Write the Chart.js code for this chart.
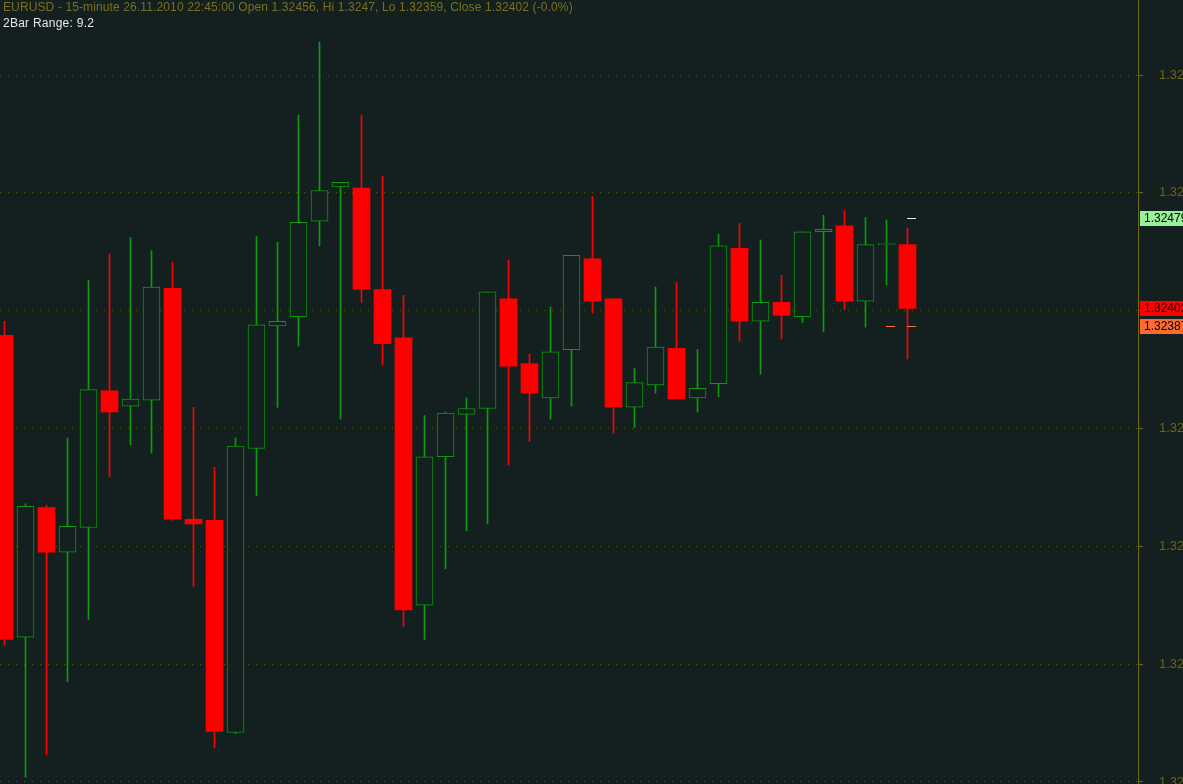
<!DOCTYPE html>
<html>
<head>
<meta charset="utf-8">
<script src="https://cdn.jsdelivr.net/npm/chart.js@4"></script>
<style>
  html, body { margin: 0; padding: 0; background: #142020; overflow: hidden; }
  #wrap { position: relative; width: 1183px; height: 784px; }
  .hdr { position: absolute; left: 3px; font-family: 'Liberation Sans', Arial, sans-serif; font-size: 12px; letter-spacing: 0.12px; white-space: nowrap; line-height: 14px; }
  #title { top: 0px; color: #77721f; }
  #range { top: 16px; color: #e6e6e6; letter-spacing: 0.25px; }
</style>
</head>
<body>
<div id="wrap">
  <canvas id="chart" width="1183" height="784"></canvas>
  <div class="hdr" id="title">EURUSD - 15-minute 26.11.2010 22:45:00 Open 1.32456, Hi 1.3247, Lo 1.32359, Close 1.32402 (-0.0%)</div>
  <div class="hdr" id="range">2Bar Range: 9.2</div>
</div>
<script>
// 15-minute bars, oldest first
const opens  = [1.32379, 1.32123, 1.32233, 1.32195, 1.32216, 1.32332, 1.32319, 1.32324, 1.32419, 1.32223,
                1.32222, 1.32042, 1.32283, 1.32387, 1.32395, 1.32476, 1.32505, 1.32504, 1.32418, 1.32377,
                1.32150, 1.32276, 1.32312, 1.32317, 1.32410, 1.32355, 1.32326, 1.32367, 1.32444, 1.32410,
                1.32318, 1.32337, 1.32368, 1.32326, 1.32338, 1.32453, 1.32391, 1.32407, 1.32395, 1.32467,
                1.32472, 1.32408, 1.32456, 1.32456];
const highs  = [1.32391, 1.32236, 1.32235, 1.32292, 1.32426, 1.32448, 1.32462, 1.32451, 1.32441, 1.32318,
                1.32267, 1.32292, 1.32463, 1.32458, 1.32566, 1.32628, 1.32509, 1.32566, 1.32514, 1.32413,
                1.32311, 1.32314, 1.32326, 1.32416, 1.32443, 1.32363, 1.32403, 1.32447, 1.32497, 1.32410,
                1.32351, 1.32420, 1.32424, 1.32367, 1.32465, 1.32474, 1.32460, 1.32430, 1.32467, 1.32481,
                1.32485, 1.32479, 1.32477, 1.32470];
const lows   = [1.32116, 1.32004, 1.32023, 1.32085, 1.32138, 1.32259, 1.32286, 1.32279, 1.32222, 1.32166,
                1.32029, 1.32041, 1.32243, 1.32318, 1.32370, 1.32455, 1.32308, 1.32407, 1.32354, 1.32132,
                1.32121, 1.32181, 1.32213, 1.32219, 1.32269, 1.32289, 1.32308, 1.32319, 1.32398, 1.32296,
                1.32301, 1.32330, 1.32325, 1.32314, 1.32327, 1.32374, 1.32346, 1.32376, 1.32390, 1.32382,
                1.32401, 1.32386, 1.32422, 1.32359];
const closes = [1.32121, 1.32234, 1.32195, 1.32217, 1.32333, 1.32314, 1.32325, 1.32420, 1.32223, 1.32219,
                1.32043, 1.32285, 1.32388, 1.32391, 1.32475, 1.32502, 1.32509, 1.32418, 1.32372, 1.32146,
                1.32276, 1.32313, 1.32317, 1.32416, 1.32353, 1.32330, 1.32365, 1.32447, 1.32408, 1.32318,
                1.32339, 1.32369, 1.32325, 1.32334, 1.32455, 1.32391, 1.32407, 1.32396, 1.32467, 1.32469,
                1.32408, 1.32456, 1.32456, 1.32402];

const yTicks = [1.3200, 1.3210, 1.3220, 1.3230, 1.3240, 1.3250, 1.3260];

// price tags on the right axis
const tagValues = [1.32479, 1.32402, 1.32387];
const tagColors = ['#98f098', '#ff0000', '#ff6a30'];

// small level dashes next to the last bars
const dashBars   = [43, 42, 43];
const dashValues = [1.32479, 1.32387, 1.32387];
const dashColors = ['#c8ffc8', '#ff7040', '#ff7040'];

const BG = '#142020';
const UP = '#0a9a0a';
const DOWN = '#ff0000';
const OLIVE = '#6e6800';

const isUp = opens.map((o, i) => closes[i] >= o);

const wickData = lows.map((l, i) => ({ x: i, y: [l, highs[i]] }));
const bodyData = opens.map((o, i) => ({ x: i, y: [o, closes[i]] }));

const tagPlugin = {
    id: 'tags',
    afterDraw(chart) {
        const ctx = chart.ctx;
        const xs = chart.scales.x, ys = chart.scales.y;
        ctx.save();
        // level dashes
        dashBars.forEach((b, i) => {
            const x = xs.getPixelForValue(b);
            const y = Math.round(ys.getPixelForValue(dashValues[i])) + 0.5;
            ctx.strokeStyle = dashColors[i];
            ctx.lineWidth = 1;
            ctx.beginPath();
            ctx.moveTo(x - 0.5, y);
            ctx.lineTo(x + 8.5, y);
            ctx.stroke();
        });
        // price boxes
        ctx.font = '12px "Liberation Sans", Arial, sans-serif';
        ctx.textBaseline = 'middle';
        tagValues.forEach((v, i) => {
            const y = Math.round(ys.getPixelForValue(v));
            ctx.fillStyle = tagColors[i];
            ctx.fillRect(1140, y - 7, 43, 15);
            ctx.fillStyle = '#000';
            ctx.fillText(v.toFixed(5), 1144, y + 1);
        });
        ctx.restore();
    }
};

new Chart(document.getElementById('chart'), {
    type: 'bar',
    data: {
        datasets: [
            {
                label: 'wick',
                data: wickData,
                backgroundColor: isUp.map(u => u ? UP : DOWN),
                borderWidth: 0,
                barThickness: 1,
                grouped: false,
                order: 2
            },
            {
                label: 'body',
                data: bodyData,
                backgroundColor: isUp.map(u => u ? BG : DOWN),
                borderColor: isUp.map(u => u ? UP : DOWN),
                borderWidth: isUp.map(u => u ? 1 : 0),
                borderSkipped: false,
                barThickness: 17,
                minBarLength: 1,
                grouped: false,
                order: 1
            }
        ]
    },
    options: {
        responsive: false,
        animation: false,
        layout: { padding: 0 },
        plugins: { legend: { display: false }, tooltip: { enabled: false } },
        scales: {
            x: {
                type: 'linear',
                display: false,
                offset: false,
                min: -4.5 / 21,
                max: -4.5 / 21 + 1138 / 21
            },
            y: {
                type: 'linear',
                position: 'right',
                min: 1.3200 - 2 / 117833,
                max: 1.3260 + 75 / 117833,
                afterBuildTicks: s => { s.ticks = yTicks.map(v => ({ value: v })); },
                afterFit: s => { s.width = 45; s.paddingTop = 0; s.paddingBottom = 0; },
                grid: {
                    color: '#5a5a14',
                    drawTicks: true,
                    tickLength: 5,
                    tickColor: OLIVE,
                    tickBorderDash: []
                },
                border: { display: true, color: OLIVE, width: 1, dash: [1, 7] },
                ticks: {
                    color: '#6b6518',
                    padding: 16,
                    font: { family: 'Liberation Sans', size: 13 },
                    callback: v => v.toFixed(4)
                }
            }
        }
    },
    plugins: [tagPlugin]
});
</script>
</body>
</html>
